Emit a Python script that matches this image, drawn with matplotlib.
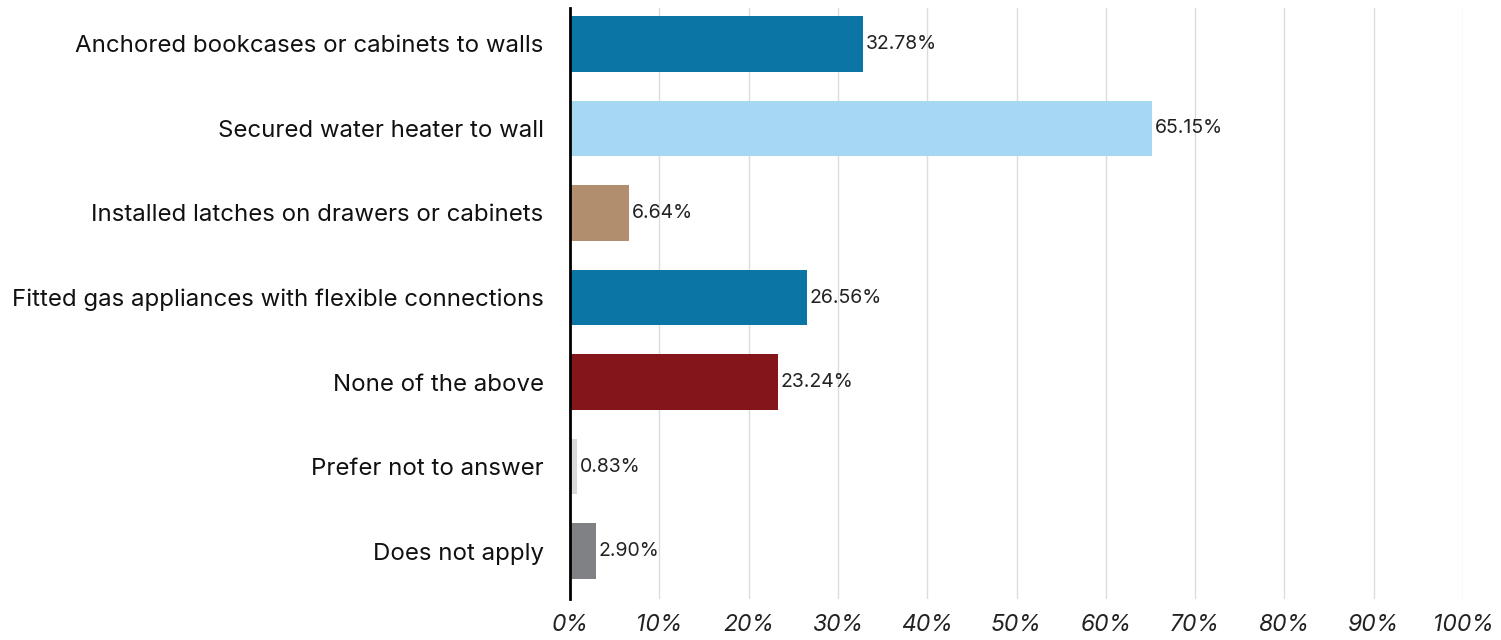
import matplotlib
matplotlib.use("Agg")
import matplotlib.pyplot as plt

categories = [
    "Anchored bookcases or cabinets to walls",
    "Secured water heater to wall",
    "Installed latches on drawers or cabinets",
    "Fitted gas appliances with flexible connections",
    "None of the above",
    "Prefer not to answer",
    "Does not apply",
]
values = [32.78, 65.15, 6.64, 26.56, 23.24, 0.83, 2.90]
bar_colors = ["#0b75a6", "#a6d8f3", "#b18f6e", "#0b75a6", "#84151a", "#d9d9d9", "#808184"]
xticks = [0, 10, 20, 30, 40, 50, 60, 70, 80, 90, 100]
xtick_labels = [f"{t}%" for t in xticks]

plt.rcParams['font.family'] = ['Inter', 'DejaVu Sans']

fig = plt.figure(figsize=(15.01, 6.40), dpi=100)
ax = fig.add_axes([570/1501, 1-599/640, (1463-570)/1501, (599-8)/640])

y = list(range(len(categories)))
ax.barh(y, values, height=0.66, color=bar_colors, zorder=3)
for yi, v in zip(y, values):
    ax.text(v + 0.3, yi, f"{v:.2f}%", va="center", ha="left", fontsize=14, color="#222222")

ax.set_xlim(0, 100)
ax.set_ylim(6.568, -0.426)
ax.set_yticks(y)
ax.set_yticklabels(categories, fontsize=17.3, color="#111111")
ax.set_xticks(xticks)
ax.set_xticklabels(xtick_labels, fontsize=16.5, style="italic", color="#222222")
ax.tick_params(axis="both", length=0)
ax.tick_params(axis="y", pad=19)
ax.tick_params(axis="x", pad=11)
ax.grid(axis="x", color="#d8dede", linewidth=1, zorder=0)
for s in ["top", "right", "bottom"]:
    ax.spines[s].set_visible(False)
ax.spines["left"].set_linewidth(2)
ax.spines["left"].set_color("black")
ax.spines["left"].set_zorder(4)

fig.savefig("out.png", dpi=100)
